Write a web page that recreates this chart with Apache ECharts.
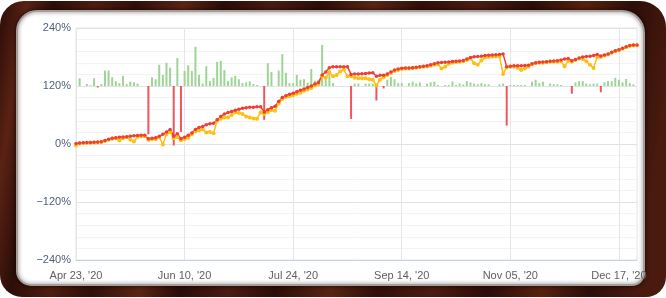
<!DOCTYPE html>
<html>
<head>
<meta charset="utf-8">
<script src="https://cdn.jsdelivr.net/npm/echarts@6/dist/echarts.min.js"></script>
<style>
  html, body { margin: 0; padding: 0; background: #fff; }
  #chart { width: 666px; height: 298px; }
</style>
</head>
<body>
<div id="chart"></div>
<script>
// trading days on the x axis
const dates = [
  '2020-04-23','2020-04-24','2020-04-27','2020-04-28','2020-04-29','2020-04-30','2020-05-04','2020-05-05','2020-05-06','2020-05-07',
  '2020-05-11','2020-05-12','2020-05-13','2020-05-14','2020-05-15','2020-05-18','2020-05-19','2020-05-20','2020-05-21','2020-05-22',
  '2020-05-26','2020-05-27','2020-05-28','2020-05-29','2020-06-01','2020-06-02','2020-06-03','2020-06-04','2020-06-08','2020-06-09',
  '2020-06-10','2020-06-11','2020-06-12','2020-06-15','2020-06-16','2020-06-17','2020-06-18','2020-06-19','2020-06-22','2020-06-23',
  '2020-06-24','2020-06-25','2020-06-29','2020-06-30','2020-07-01','2020-07-02','2020-07-06','2020-07-07','2020-07-08','2020-07-09',
  '2020-07-10','2020-07-13','2020-07-14','2020-07-15','2020-07-16','2020-07-17','2020-07-20','2020-07-21','2020-07-22','2020-07-23',
  '2020-07-24','2020-07-27','2020-07-28','2020-07-29','2020-07-30','2020-07-31','2020-08-03','2020-08-04','2020-08-05','2020-08-06',
  '2020-08-10','2020-08-11','2020-08-12','2020-08-13','2020-08-17','2020-08-18','2020-08-19','2020-08-20','2020-08-24','2020-08-25',
  '2020-08-26','2020-08-27','2020-08-31','2020-09-01','2020-09-02','2020-09-03','2020-09-08','2020-09-09','2020-09-10','2020-09-11',
  '2020-09-14','2020-09-15','2020-09-16','2020-09-17','2020-09-21','2020-09-22','2020-09-23','2020-09-24','2020-09-28','2020-09-29',
  '2020-09-30','2020-10-01','2020-10-05','2020-10-06','2020-10-07','2020-10-08','2020-10-13','2020-10-14','2020-10-15','2020-10-19',
  '2020-10-20','2020-10-21','2020-10-22','2020-10-26','2020-10-27','2020-10-28','2020-10-29','2020-11-02','2020-11-03','2020-11-04',
  '2020-11-05','2020-11-06','2020-11-09','2020-11-10','2020-11-11','2020-11-12','2020-11-13','2020-11-16','2020-11-17','2020-11-18',
  '2020-11-19','2020-11-20','2020-11-23','2020-11-24','2020-11-25','2020-11-26','2020-11-27','2020-11-30','2020-12-01','2020-12-02',
  '2020-12-03','2020-12-04','2020-12-07','2020-12-08','2020-12-09','2020-12-10','2020-12-11','2020-12-14','2020-12-15','2020-12-16',
  '2020-12-17','2020-12-18','2020-12-21','2020-12-22','2020-12-23','2020-12-24'
];

// growth (balance), %
const balance = [
  1, 2, 2.5, 3, 3, 3.5, 4, 4.5, 7, 10,
  12, 13, 14, 14.5, 15, 16, 17, 17.5, 18, 18,
  11, 12, 13, 16, 20, 25, 30, 16, 21, 11,
  14, 18, 23, 30, 34, 36, 40, 42, 43, 50,
  57, 62, 65, 67, 70, 72, 74, 75, 76, 76,
  77, 77, 66, 71, 75, 78, 88, 96, 100, 103,
  105, 108, 111, 114, 117, 120, 124, 127, 143, 149,
  158, 160, 160, 160, 160, 160, 144, 145, 145, 145.5,
  146, 147, 147.5, 140, 142, 142, 145, 149, 153, 155,
  156.5, 157, 157, 158, 159, 160, 161, 162, 164, 166,
  168, 168.5, 169, 169.5, 170.5, 171, 171.5, 173, 176, 179,
  180.5, 181, 181.5, 183, 183.5, 184, 184.5, 185, 186, 160,
  161, 162, 162, 162, 162.5, 163, 166, 168, 169, 169.5,
  170, 171, 171.5, 172.5, 174, 176, 177, 172, 175, 178,
  180, 181, 181.5, 183, 185, 182, 184, 186, 190, 193,
  195, 198, 201, 204, 205, 205
];

// equity, %
const equity = [
  -3, 1, 2, 2, 2.5, 3, 3, 4, 6, 9,
  11, 12, 7, 12, 14, 9, 5, 15, 16, 16,
  9, 10, 10, 14, -1, 20, 25, 12, 14, 8,
  10, 13, 20, 26, 28, 30, 24, 25, 22, 48,
  52, 55, 55, 60, 65, 64, 62, 57, 55, 53,
  52, 65, 62, 66, 70, 69, 84, 93, 97, 99,
  101, 104, 106, 110, 113, 116, 121, 124, 140, 137,
  148, 140, 143, 150, 154, 140, 140, 137, 136, 136,
  136, 134, 133, 121, 133, 138, 143, 147, 151, 153,
  155, 156, 156, 157, 158, 159, 160, 160.5, 162, 164,
  165, 156, 160, 166, 168, 169, 170, 171, 174, 177,
  167, 164, 173, 179, 180, 181, 181, 181, 145, 159,
  160, 160, 158, 153, 156, 160, 165, 167, 168, 168,
  169, 170, 170, 170, 171, 161, 172, 170, 174, 177,
  176, 171, 164, 157, 180, 180, 183, 185, 189, 192,
  194, 197, 200, 203, 204, 204
];

// daily result bars (drawn from the 120% line)
const daily = [
  0, 16, 0, 4, 1.5, 16, -3, 4, 32, 32,
  18, 10, 6, 21, 4, 9, 7.5, 5, 0, 0,
  -100, 18, 14, 44, 23, 48, 38, -123, 58, -95,
  31, 43, 31, 81, 23, 5, 41, 10, 17, 50,
  52, 33, 10, 18, 21, 14, 6, 7.5, 9.5, 4,
  2, 0, -70, 47, 29, 0, 32, 66, 27, 6,
  6, 23, 13, 14, 7, 35, 11, 13, 85, 16,
  34, 6, 0, 0, 0, 0, -68, 5, 5, 0,
  5, 5, 5, -30, 0, -5, 13, 19, 14, 6,
  6, 0, 6, 9, 5, 7.5, 0, 5, 7.5, 9,
  2, 0, 2, 2, 9.5, 2, 5, 3, 10, 7.5,
  5, 3.5, 6, 3.5, 3.5, 0, 0, 3.5, 5, -82,
  2, 2, 2, 2, 2, 0, 9, 13, 6, 9,
  0, 5, 3.5, 3.5, 2, 0, 0, -16, 7.5, 10,
  10, 5, 3.5, 5, 5, -13, 7.5, 10, 10, 17,
  13, 7.5, 14.5, 6, 3.5, 0
];

const yTicks = [-240, -120, 0, 120, 240];
const months = ['Jan','Feb','Mar','Apr','May','Jun','Jul','Aug','Sep','Oct','Nov','Dec'];

function fmtDate(s) {
  const p = s.split('-');
  return months[+p[1] - 1] + ' ' + p[2] + ", '" + p[0].slice(2);
}

// dark wood for the frame
const wood = {
  type: 'linear', x: 0, y: 0, x2: 1, y2: 0.35,
  colorStops: [
    { offset: 0, color: '#2a0c07' }, { offset: 0.04, color: '#5a2214' },
    { offset: 0.08, color: '#2c0e08' }, { offset: 0.14, color: '#4f1d10' },
    { offset: 0.2, color: '#300f09' }, { offset: 0.27, color: '#5c2415' },
    { offset: 0.33, color: '#2a0c07' }, { offset: 0.4, color: '#4b1b11' },
    { offset: 0.47, color: '#2c0d07' }, { offset: 0.55, color: '#5a2414' },
    { offset: 0.62, color: '#310f08' }, { offset: 0.7, color: '#4d1c10' },
    { offset: 0.78, color: '#2b0d07' }, { offset: 0.86, color: '#58210f' },
    { offset: 0.93, color: '#2d0e08' }, { offset: 1, color: '#4a1a0e' }
  ]
};

const chart = echarts.init(document.getElementById('chart'), null, { renderer: 'canvas' });

chart.setOption({
  animation: false,
  backgroundColor: '#ffffff',
  graphic: [
    {
      type: 'rect', z: -10, silent: true,
      shape: { x: 0, y: 1, width: 666, height: 296, r: [24, 26, 20, 22] },
      style: { fill: wood }
    },
    {
      type: 'rect', z: -9, silent: true,
      shape: { x: 17, y: 11, width: 627, height: 274, r: [20, 22, 12, 14] },
      style: { fill: '#ffffff', stroke: '#a79c98', lineWidth: 2,
        shadowBlur: 4, shadowColor: 'rgba(0,0,0,0.6)' }
    }
  ],
  grid: {
    left: 76, right: 29, top: 28, bottom: 38,
    show: true, borderColor: '#e4e4e4', borderWidth: 1, backgroundColor: 'transparent'
  },
  xAxis: {
    type: 'category',
    data: dates,
    boundaryGap: false,
    axisLine: { onZero: false, lineStyle: { color: '#c5d3e8', width: 1 } },
    axisTick: { show: false },
    axisLabel: {
      interval: 29, margin: 10, color: '#606060',
      fontFamily: 'Liberation Sans', fontSize: 11,
      formatter: fmtDate
    },
    splitLine: { show: true, interval: 29, lineStyle: { color: '#e6e6e6' } }
  },
  yAxis: [
    {
      type: 'value', min: -240, max: 240, interval: 24,
      axisLine: { show: false }, axisTick: { show: false },
      axisLabel: {
        margin: 5, color: '#51607a', fontFamily: 'Liberation Sans', fontSize: 11,
        formatter: v => yTicks.includes(v) ? String(v).replace('-', '\u2212') + '%' : ''
      },
      splitLine: { lineStyle: { color: ['#e2e2e2', '#f3f3f3', '#f3f3f3', '#f3f3f3', '#f3f3f3'] } }
    },
    {
      type: 'value', min: -360, max: 120, show: false,
      splitLine: { show: false }
    }
  ],
  series: [
    {
      type: 'bar', yAxisIndex: 1, data: daily, barWidth: 2,
      itemStyle: {
        color: p => p.value >= 0 ? '#9ed596' : '#f2555a'
      }
    },
    {
      type: 'line', data: equity, color: '#fcbf12',
      symbol: 'circle', symbolSize: 4, showAllSymbol: true,
      lineStyle: { width: 1.5 }
    },
    {
      type: 'line', data: balance, color: '#ec3e35',
      symbol: 'circle', symbolSize: 3.5, showAllSymbol: true,
      lineStyle: { width: 1.5 }
    }
  ]
});
</script>
</body>
</html>
